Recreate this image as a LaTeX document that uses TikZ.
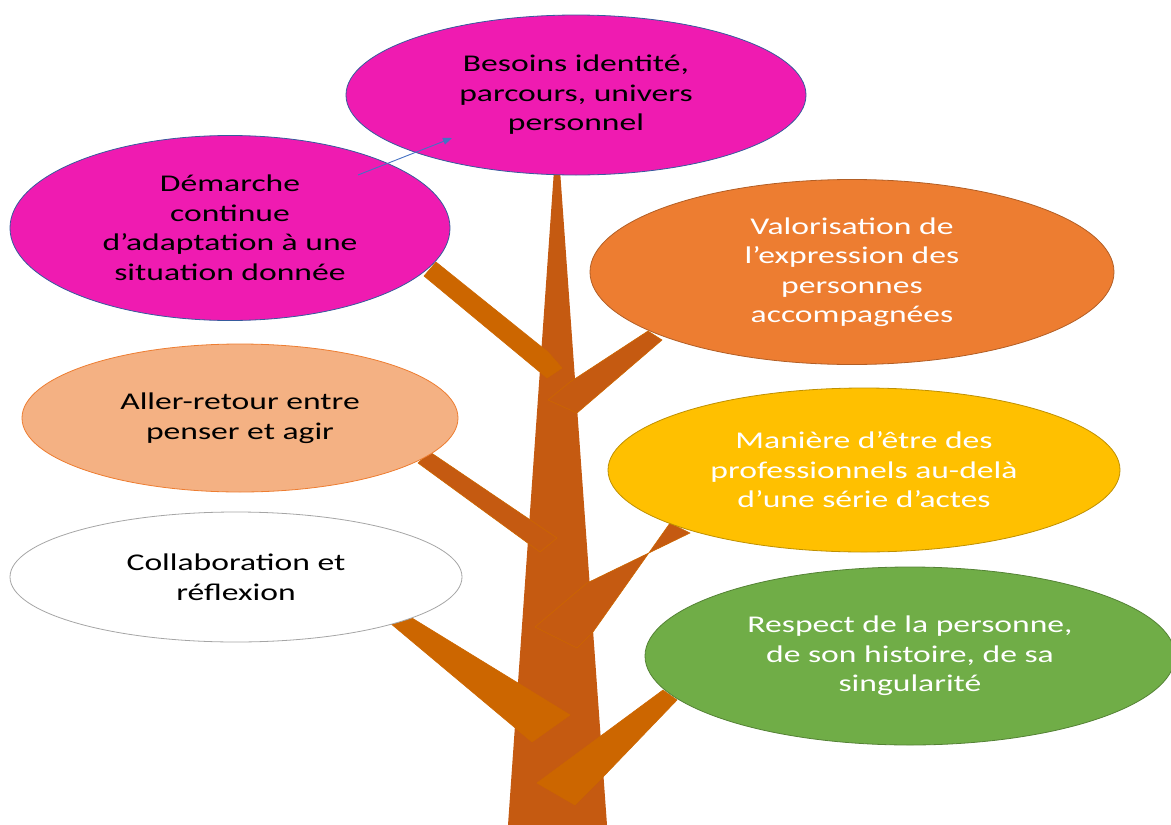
\documentclass[tikz,border=0pt]{standalone}
\usepackage{fontspec}
\setmainfont{Carlito}[FakeStretch=1.4]
\usepackage{xcolor}
\usepackage{tikz}
\usetikzlibrary{shapes.geometric,arrows.meta}

\definecolor{pinkleaf}{RGB}{239,27,177}
\definecolor{orangeleaf}{RGB}{237,125,49}
\definecolor{yellowleaf}{RGB}{255,192,0}
\definecolor{greenleaf}{RGB}{112,173,71}
\definecolor{peachleaf}{RGB}{244,177,131}
\definecolor{greyline}{RGB}{165,165,165}
\definecolor{blueline}{RGB}{68,114,196}
\definecolor{trunkbrown}{RGB}{197,90,17}
\definecolor{branchbrown}{RGB}{204,102,0}

\tikzset{
  leaf/.style={ellipse, inner sep=0pt, align=center, line width=0.8pt,
    font=\fontsize{24}{29.5}\selectfont},
  branch/.style={fill=#1, draw=branchbrown, line width=0.6pt, line join=miter},
}

\begin{document}
\begin{tikzpicture}[x=1pt,y=-1pt]
\clip (0,0) rectangle (1171,825);

% Trunk
\fill[trunkbrown] (554,170) -- (560,170) -- (607,825) -- (508,825) -- cycle;

% Branches
\draw[branch=branchbrown] (436,262) -- (548,352) -- (562,368) -- (547,378) -- (424,276) -- cycle;
\draw[branch=trunkbrown] (648,331) -- (570,382) -- (548,400) -- (577,413) -- (662,340) -- cycle;
\draw[branch=trunkbrown] (430,452) -- (557,538) -- (540,552) -- (418,463) -- cycle;
\draw[branch=trunkbrown] (690,533) -- (587,583) -- (535,627) -- (577,648) -- (593,632) -- (670,523) -- cycle;
\draw[branch=branchbrown] (412,618) -- (518,683) -- (570,715) -- (532,742) -- (390,623) -- cycle;
\draw[branch=branchbrown] (663,690) -- (537,783) -- (575,805) -- (603,777) -- (677,700) -- cycle;

% Leaves
\node[leaf, fill=pinkleaf, draw=blueline!80!black, minimum width=460, minimum height=160]
  (besoins) at (576,95) {Besoins identité,\\parcours, univers\\personnel};
\node[leaf, fill=pinkleaf, draw=blueline!80!black, minimum width=440, minimum height=185]
  (demarche) at (230,228) {Démarche\\continue\\d’adaptation à une\\situation donnée};
\node[leaf, fill=orangeleaf, draw=orangeleaf!75!black, text=white, minimum width=524, minimum height=185]
  (valorisation) at (852,272) {Valorisation de\\l’expression des\\personnes\\accompagnées};
\node[leaf, fill=yellowleaf, draw=yellowleaf!75!black, text=white, minimum width=512, minimum height=164]
  (maniere) at (864,470) {Manière d’être des\\professionnels au-delà\\d’une série d’actes};
\node[leaf, fill=greenleaf, draw=greenleaf!75!black, text=white, minimum width=530, minimum height=178]
  (respect) at (910,656) {Respect de la personne,\\de son histoire, de sa\\singularité};
\node[leaf, fill=peachleaf, draw=orangeleaf, minimum width=436, minimum height=148]
  (aller) at (240,418) {Aller-retour entre\\penser et agir};
\node[leaf, fill=white, draw=greyline, minimum width=452, minimum height=130]
  (collab) at (236,577) {Collaboration et\\réflexion};

% Arrow
\coordinate (arrowtail) at (358,175);
\coordinate (arrowhead) at (452,138);
\draw[-{Triangle[length=9pt,width=7pt]}, blueline, line width=0.9pt] (arrowtail) -- (arrowhead);

\end{tikzpicture}
\end{document}
